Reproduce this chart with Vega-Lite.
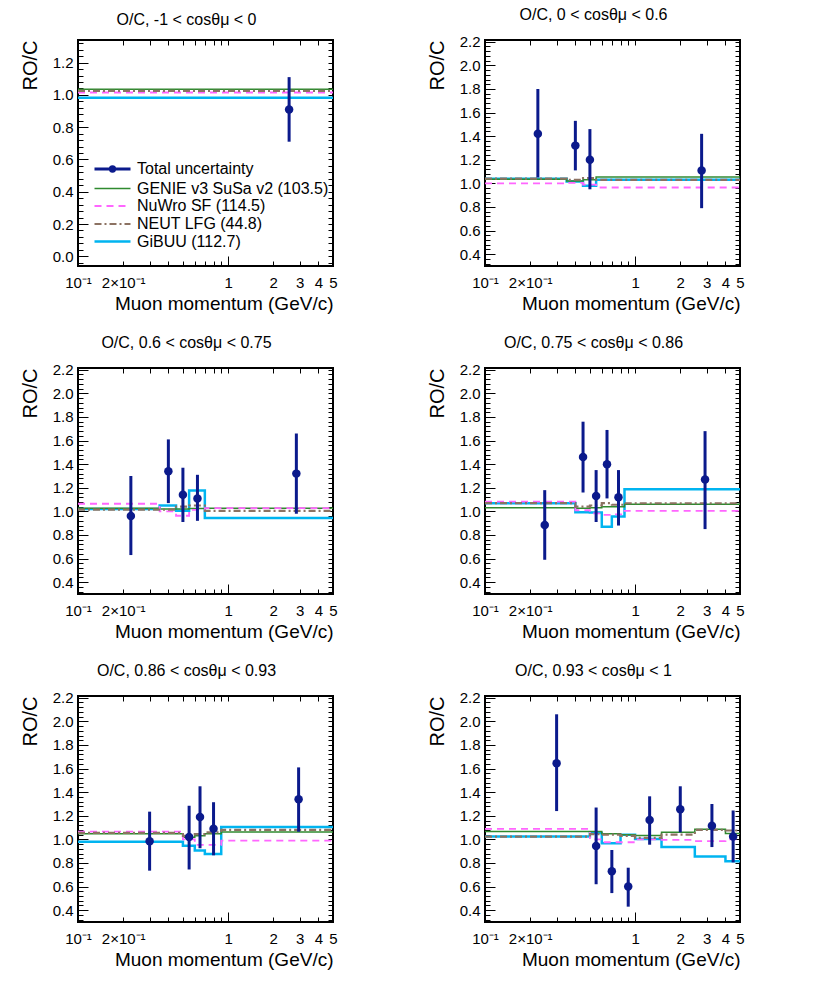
{
  "$schema": "https://vega.github.io/schema/vega-lite/v6.json",
  "background": "white",
  "padding": {"left": 18, "top": 5, "right": 0, "bottom": 0},
  "datasets": {
    "models": [
      {"panel": 1, "model": "GiBUU (112.7)", "p": 0.1, "r": 0.982},
      {"panel": 1, "model": "GiBUU (112.7)", "p": 5, "r": 0.982},
      {"panel": 1, "model": "GENIE v3 SuSa v2 (103.5)", "p": 0.1, "r": 1.035},
      {"panel": 1, "model": "GENIE v3 SuSa v2 (103.5)", "p": 5, "r": 1.035},
      {"panel": 1, "model": "NuWro SF (114.5)", "p": 0.1, "r": 1.015},
      {"panel": 1, "model": "NuWro SF (114.5)", "p": 5, "r": 1.015},
      {"panel": 1, "model": "NEUT LFG (44.8)", "p": 0.1, "r": 1.025},
      {"panel": 1, "model": "NEUT LFG (44.8)", "p": 5, "r": 1.025},

      {"panel": 2, "model": "GiBUU (112.7)", "p": 0.1, "r": 1.04},
      {"panel": 2, "model": "GiBUU (112.7)", "p": 0.35, "r": 1.015},
      {"panel": 2, "model": "GiBUU (112.7)", "p": 0.45, "r": 0.98},
      {"panel": 2, "model": "GiBUU (112.7)", "p": 0.55, "r": 1.03},
      {"panel": 2, "model": "GiBUU (112.7)", "p": 5, "r": 1.03},
      {"panel": 2, "model": "GENIE v3 SuSa v2 (103.5)", "p": 0.1, "r": 1.035},
      {"panel": 2, "model": "GENIE v3 SuSa v2 (103.5)", "p": 0.35, "r": 1.02},
      {"panel": 2, "model": "GENIE v3 SuSa v2 (103.5)", "p": 0.45, "r": 1.03},
      {"panel": 2, "model": "GENIE v3 SuSa v2 (103.5)", "p": 0.55, "r": 1.055},
      {"panel": 2, "model": "GENIE v3 SuSa v2 (103.5)", "p": 5, "r": 1.055},
      {"panel": 2, "model": "NuWro SF (114.5)", "p": 0.1, "r": 1.0},
      {"panel": 2, "model": "NuWro SF (114.5)", "p": 0.35, "r": 1.005},
      {"panel": 2, "model": "NuWro SF (114.5)", "p": 0.45, "r": 0.99},
      {"panel": 2, "model": "NuWro SF (114.5)", "p": 0.55, "r": 0.965},
      {"panel": 2, "model": "NuWro SF (114.5)", "p": 5, "r": 0.965},
      {"panel": 2, "model": "NEUT LFG (44.8)", "p": 0.1, "r": 1.04},
      {"panel": 2, "model": "NEUT LFG (44.8)", "p": 0.35, "r": 1.03},
      {"panel": 2, "model": "NEUT LFG (44.8)", "p": 0.45, "r": 1.045},
      {"panel": 2, "model": "NEUT LFG (44.8)", "p": 0.55, "r": 1.03},
      {"panel": 2, "model": "NEUT LFG (44.8)", "p": 5, "r": 1.03},

      {"panel": 3, "model": "GiBUU (112.7)", "p": 0.1, "r": 1.02},
      {"panel": 3, "model": "GiBUU (112.7)", "p": 0.35, "r": 1.05},
      {"panel": 3, "model": "GiBUU (112.7)", "p": 0.45, "r": 1.005},
      {"panel": 3, "model": "GiBUU (112.7)", "p": 0.55, "r": 1.177},
      {"panel": 3, "model": "GiBUU (112.7)", "p": 0.7, "r": 0.943},
      {"panel": 3, "model": "GiBUU (112.7)", "p": 5, "r": 0.943},
      {"panel": 3, "model": "GENIE v3 SuSa v2 (103.5)", "p": 0.1, "r": 1.027},
      {"panel": 3, "model": "GENIE v3 SuSa v2 (103.5)", "p": 0.35, "r": 1.02},
      {"panel": 3, "model": "GENIE v3 SuSa v2 (103.5)", "p": 0.45, "r": 1.02},
      {"panel": 3, "model": "GENIE v3 SuSa v2 (103.5)", "p": 0.55, "r": 1.025},
      {"panel": 3, "model": "GENIE v3 SuSa v2 (103.5)", "p": 0.7, "r": 1.027},
      {"panel": 3, "model": "GENIE v3 SuSa v2 (103.5)", "p": 5, "r": 1.027},
      {"panel": 3, "model": "NuWro SF (114.5)", "p": 0.1, "r": 1.065},
      {"panel": 3, "model": "NuWro SF (114.5)", "p": 0.35, "r": 1.0},
      {"panel": 3, "model": "NuWro SF (114.5)", "p": 0.45, "r": 0.963},
      {"panel": 3, "model": "NuWro SF (114.5)", "p": 0.55, "r": 1.013},
      {"panel": 3, "model": "NuWro SF (114.5)", "p": 0.7, "r": 1.027},
      {"panel": 3, "model": "NuWro SF (114.5)", "p": 5, "r": 1.027},
      {"panel": 3, "model": "NEUT LFG (44.8)", "p": 0.1, "r": 1.015},
      {"panel": 3, "model": "NEUT LFG (44.8)", "p": 0.35, "r": 1.015},
      {"panel": 3, "model": "NEUT LFG (44.8)", "p": 0.45, "r": 1.04},
      {"panel": 3, "model": "NEUT LFG (44.8)", "p": 0.55, "r": 1.05},
      {"panel": 3, "model": "NEUT LFG (44.8)", "p": 0.7, "r": 1.005},
      {"panel": 3, "model": "NEUT LFG (44.8)", "p": 5, "r": 1.005},

      {"panel": 4, "model": "GiBUU (112.7)", "p": 0.1, "r": 1.07},
      {"panel": 4, "model": "GiBUU (112.7)", "p": 0.4, "r": 0.993},
      {"panel": 4, "model": "GiBUU (112.7)", "p": 0.5, "r": 0.99},
      {"panel": 4, "model": "GiBUU (112.7)", "p": 0.6, "r": 0.87},
      {"panel": 4, "model": "GiBUU (112.7)", "p": 0.7, "r": 0.956},
      {"panel": 4, "model": "GiBUU (112.7)", "p": 0.85, "r": 1.188},
      {"panel": 4, "model": "GiBUU (112.7)", "p": 5, "r": 1.188},
      {"panel": 4, "model": "GENIE v3 SuSa v2 (103.5)", "p": 0.1, "r": 1.03},
      {"panel": 4, "model": "GENIE v3 SuSa v2 (103.5)", "p": 0.4, "r": 1.027},
      {"panel": 4, "model": "GENIE v3 SuSa v2 (103.5)", "p": 0.5, "r": 1.03},
      {"panel": 4, "model": "GENIE v3 SuSa v2 (103.5)", "p": 0.6, "r": 1.04},
      {"panel": 4, "model": "GENIE v3 SuSa v2 (103.5)", "p": 0.7, "r": 1.04},
      {"panel": 4, "model": "GENIE v3 SuSa v2 (103.5)", "p": 0.85, "r": 1.06},
      {"panel": 4, "model": "GENIE v3 SuSa v2 (103.5)", "p": 5, "r": 1.06},
      {"panel": 4, "model": "NuWro SF (114.5)", "p": 0.1, "r": 1.083},
      {"panel": 4, "model": "NuWro SF (114.5)", "p": 0.4, "r": 1.01},
      {"panel": 4, "model": "NuWro SF (114.5)", "p": 0.5, "r": 0.983},
      {"panel": 4, "model": "NuWro SF (114.5)", "p": 0.6, "r": 0.97},
      {"panel": 4, "model": "NuWro SF (114.5)", "p": 0.7, "r": 0.975},
      {"panel": 4, "model": "NuWro SF (114.5)", "p": 0.85, "r": 1.004},
      {"panel": 4, "model": "NuWro SF (114.5)", "p": 5, "r": 1.004},
      {"panel": 4, "model": "NEUT LFG (44.8)", "p": 0.1, "r": 1.07},
      {"panel": 4, "model": "NEUT LFG (44.8)", "p": 0.4, "r": 1.04},
      {"panel": 4, "model": "NEUT LFG (44.8)", "p": 0.5, "r": 1.05},
      {"panel": 4, "model": "NEUT LFG (44.8)", "p": 0.6, "r": 1.07},
      {"panel": 4, "model": "NEUT LFG (44.8)", "p": 0.7, "r": 1.056},
      {"panel": 4, "model": "NEUT LFG (44.8)", "p": 0.85, "r": 1.069},
      {"panel": 4, "model": "NEUT LFG (44.8)", "p": 5, "r": 1.069},

      {"panel": 5, "model": "GiBUU (112.7)", "p": 0.1, "r": 0.98},
      {"panel": 5, "model": "GiBUU (112.7)", "p": 0.5, "r": 0.947},
      {"panel": 5, "model": "GiBUU (112.7)", "p": 0.6, "r": 0.905},
      {"panel": 5, "model": "GiBUU (112.7)", "p": 0.7, "r": 0.877},
      {"panel": 5, "model": "GiBUU (112.7)", "p": 0.9, "r": 1.104},
      {"panel": 5, "model": "GiBUU (112.7)", "p": 5, "r": 1.104},
      {"panel": 5, "model": "GENIE v3 SuSa v2 (103.5)", "p": 0.1, "r": 1.047},
      {"panel": 5, "model": "GENIE v3 SuSa v2 (103.5)", "p": 0.5, "r": 1.018},
      {"panel": 5, "model": "GENIE v3 SuSa v2 (103.5)", "p": 0.6, "r": 1.03},
      {"panel": 5, "model": "GENIE v3 SuSa v2 (103.5)", "p": 0.7, "r": 1.047},
      {"panel": 5, "model": "GENIE v3 SuSa v2 (103.5)", "p": 0.9, "r": 1.062},
      {"panel": 5, "model": "GENIE v3 SuSa v2 (103.5)", "p": 5, "r": 1.062},
      {"panel": 5, "model": "NuWro SF (114.5)", "p": 0.1, "r": 1.066},
      {"panel": 5, "model": "NuWro SF (114.5)", "p": 0.5, "r": 1.0},
      {"panel": 5, "model": "NuWro SF (114.5)", "p": 0.6, "r": 0.953},
      {"panel": 5, "model": "NuWro SF (114.5)", "p": 0.7, "r": 0.953},
      {"panel": 5, "model": "NuWro SF (114.5)", "p": 0.9, "r": 0.99},
      {"panel": 5, "model": "NuWro SF (114.5)", "p": 5, "r": 0.99},
      {"panel": 5, "model": "NEUT LFG (44.8)", "p": 0.1, "r": 1.055},
      {"panel": 5, "model": "NEUT LFG (44.8)", "p": 0.5, "r": 1.03},
      {"panel": 5, "model": "NEUT LFG (44.8)", "p": 0.6, "r": 1.045},
      {"panel": 5, "model": "NEUT LFG (44.8)", "p": 0.7, "r": 1.06},
      {"panel": 5, "model": "NEUT LFG (44.8)", "p": 0.9, "r": 1.08},
      {"panel": 5, "model": "NEUT LFG (44.8)", "p": 5, "r": 1.08},

      {"panel": 6, "model": "GiBUU (112.7)", "p": 0.1, "r": 1.024},
      {"panel": 6, "model": "GiBUU (112.7)", "p": 0.5, "r": 1.055},
      {"panel": 6, "model": "GiBUU (112.7)", "p": 0.6, "r": 0.968},
      {"panel": 6, "model": "GiBUU (112.7)", "p": 0.8, "r": 1.04},
      {"panel": 6, "model": "GiBUU (112.7)", "p": 1.0, "r": 1.004},
      {"panel": 6, "model": "GiBUU (112.7)", "p": 1.5, "r": 0.935},
      {"panel": 6, "model": "GiBUU (112.7)", "p": 2.5, "r": 0.854},
      {"panel": 6, "model": "GiBUU (112.7)", "p": 4, "r": 0.815},
      {"panel": 6, "model": "GiBUU (112.7)", "p": 5, "r": 0.815},
      {"panel": 6, "model": "GENIE v3 SuSa v2 (103.5)", "p": 0.1, "r": 1.066},
      {"panel": 6, "model": "GENIE v3 SuSa v2 (103.5)", "p": 0.5, "r": 1.066},
      {"panel": 6, "model": "GENIE v3 SuSa v2 (103.5)", "p": 0.6, "r": 1.047},
      {"panel": 6, "model": "GENIE v3 SuSa v2 (103.5)", "p": 0.8, "r": 1.04},
      {"panel": 6, "model": "GENIE v3 SuSa v2 (103.5)", "p": 1.0, "r": 1.033},
      {"panel": 6, "model": "GENIE v3 SuSa v2 (103.5)", "p": 1.5, "r": 1.06},
      {"panel": 6, "model": "GENIE v3 SuSa v2 (103.5)", "p": 2.5, "r": 1.085},
      {"panel": 6, "model": "GENIE v3 SuSa v2 (103.5)", "p": 4, "r": 1.05},
      {"panel": 6, "model": "GENIE v3 SuSa v2 (103.5)", "p": 5, "r": 1.05},
      {"panel": 6, "model": "NuWro SF (114.5)", "p": 0.1, "r": 1.089},
      {"panel": 6, "model": "NuWro SF (114.5)", "p": 0.5, "r": 1.0},
      {"panel": 6, "model": "NuWro SF (114.5)", "p": 0.6, "r": 0.976},
      {"panel": 6, "model": "NuWro SF (114.5)", "p": 0.8, "r": 0.976},
      {"panel": 6, "model": "NuWro SF (114.5)", "p": 1.0, "r": 1.0},
      {"panel": 6, "model": "NuWro SF (114.5)", "p": 1.5, "r": 0.996},
      {"panel": 6, "model": "NuWro SF (114.5)", "p": 2.5, "r": 0.985},
      {"panel": 6, "model": "NuWro SF (114.5)", "p": 4, "r": 1.0},
      {"panel": 6, "model": "NuWro SF (114.5)", "p": 5, "r": 1.0},
      {"panel": 6, "model": "NEUT LFG (44.8)", "p": 0.1, "r": 1.024},
      {"panel": 6, "model": "NEUT LFG (44.8)", "p": 0.5, "r": 1.045},
      {"panel": 6, "model": "NEUT LFG (44.8)", "p": 0.6, "r": 1.04},
      {"panel": 6, "model": "NEUT LFG (44.8)", "p": 0.8, "r": 1.03},
      {"panel": 6, "model": "NEUT LFG (44.8)", "p": 1.0, "r": 1.013},
      {"panel": 6, "model": "NEUT LFG (44.8)", "p": 1.5, "r": 1.04},
      {"panel": 6, "model": "NEUT LFG (44.8)", "p": 2.5, "r": 1.08},
      {"panel": 6, "model": "NEUT LFG (44.8)", "p": 4, "r": 1.075},
      {"panel": 6, "model": "NEUT LFG (44.8)", "p": 5, "r": 1.075}
    ],
    "points": [
      {"panel": 1, "p": 2.55, "r": 0.91, "lo": 0.71, "hi": 1.11},
      {"panel": 2, "p": 0.225, "r": 1.42, "lo": 1.05, "hi": 1.8},
      {"panel": 2, "p": 0.4, "r": 1.32, "lo": 1.11, "hi": 1.53},
      {"panel": 2, "p": 0.5, "r": 1.2, "lo": 0.95, "hi": 1.46},
      {"panel": 2, "p": 2.775, "r": 1.11, "lo": 0.79, "hi": 1.42},
      {"panel": 3, "p": 0.225, "r": 0.96, "lo": 0.63, "hi": 1.3},
      {"panel": 3, "p": 0.4, "r": 1.34, "lo": 1.07, "hi": 1.61},
      {"panel": 3, "p": 0.5, "r": 1.14, "lo": 0.91, "hi": 1.37},
      {"panel": 3, "p": 0.625, "r": 1.11, "lo": 0.92, "hi": 1.31},
      {"panel": 3, "p": 2.85, "r": 1.32, "lo": 0.98, "hi": 1.66},
      {"panel": 4, "p": 0.25, "r": 0.885, "lo": 0.59, "hi": 1.18},
      {"panel": 4, "p": 0.45, "r": 1.46, "lo": 1.16, "hi": 1.76},
      {"panel": 4, "p": 0.55, "r": 1.13, "lo": 0.91, "hi": 1.35},
      {"panel": 4, "p": 0.65, "r": 1.4, "lo": 1.11, "hi": 1.69},
      {"panel": 4, "p": 0.775, "r": 1.12, "lo": 0.88, "hi": 1.35},
      {"panel": 4, "p": 2.925, "r": 1.27, "lo": 0.85, "hi": 1.68},
      {"panel": 5, "p": 0.3, "r": 0.985, "lo": 0.735, "hi": 1.235},
      {"panel": 5, "p": 0.55, "r": 1.02, "lo": 0.745, "hi": 1.285},
      {"panel": 5, "p": 0.65, "r": 1.19, "lo": 0.925, "hi": 1.45},
      {"panel": 5, "p": 0.8, "r": 1.09, "lo": 0.865, "hi": 1.315},
      {"panel": 5, "p": 2.95, "r": 1.34, "lo": 1.065, "hi": 1.61},
      {"panel": 6, "p": 0.3, "r": 1.645, "lo": 1.24, "hi": 2.06},
      {"panel": 6, "p": 0.55, "r": 0.945, "lo": 0.62, "hi": 1.27},
      {"panel": 6, "p": 0.7, "r": 0.73, "lo": 0.545, "hi": 0.91},
      {"panel": 6, "p": 0.9, "r": 0.6, "lo": 0.43, "hi": 0.76},
      {"panel": 6, "p": 1.25, "r": 1.165, "lo": 0.955, "hi": 1.365},
      {"panel": 6, "p": 2.0, "r": 1.255, "lo": 1.06, "hi": 1.45},
      {"panel": 6, "p": 3.25, "r": 1.115, "lo": 0.935, "hi": 1.3},
      {"panel": 6, "p": 4.5, "r": 1.025, "lo": 0.805, "hi": 1.245}
    ]
  },
  "columns": 2,
  "spacing": {"row": 102, "column": 152},
  "bounds": "flush",
  "resolve": {"scale": {"color": "independent", "strokeDash": "independent", "strokeWidth": "independent", "stroke": "independent"}},
  "concat": [
    {
      "width": 255, "height": 226,
      "title": "O/C, -1 < cosθμ < 0",
      "layer": [
        {
          "data": {"name": "models"},
          "transform": [{"filter": "datum.panel == 1"}],
          "mark": {"type": "line", "interpolate": "step-after", "clip": true},
          "encoding": {
            "x": {"field": "p", "type": "quantitative", "scale": {"type": "log", "domain": [0.1, 5], "nice": false},
              "axis": {"orient": "bottom", "values": [0.1, 0.2, 0.3, 0.4, 0.5, 0.6, 0.7, 0.8, 0.9, 1, 2, 3, 4, 5], "tickSize": -5, "labelPadding": 14, "labelFlush": false, "labelOverlap": false,
                "labelExpr": "datum.value == 0.1 ? '10⁻¹' : datum.value == 0.2 ? '2×10⁻¹' : datum.value >= 1 ? format(datum.value, 'd') : ''",
                "title": "Muon momentum (GeV/c)", "titleAnchor": "end", "titleFontSize": 19, "titlePadding": 4}},
            "y": {"field": "r", "type": "quantitative", "scale": {"domain": [-0.06, 1.34], "nice": false, "zero": false},
              "axis": {"orient": "left", "values": [-0.04, 0, 0.04, 0.08, 0.12, 0.16, 0.2, 0.24, 0.28, 0.32, 0.36, 0.4, 0.44, 0.48, 0.52, 0.56, 0.6, 0.64, 0.68, 0.72, 0.76, 0.8, 0.84, 0.88, 0.92, 0.96, 1, 1.04, 1.08, 1.12, 1.16, 1.2, 1.24, 1.28, 1.32],
                "tickSize": -5, "labelPadding": 10, "labelExpr": "abs(datum.value * 5 - round(datum.value * 5)) < 0.000001 ? format(datum.value, '.1f') : ''",
                "title": "RO/C", "titleFontSize": 20, "titleAngle": -90, "titleX": -42, "titleY": 0, "titleAlign": "right", "titleBaseline": "alphabetic"}},
            "color": {"field": "model", "type": "nominal",
              "scale": {"domain": ["GENIE v3 SuSa v2 (103.5)", "NuWro SF (114.5)", "NEUT LFG (44.8)", "GiBUU (112.7)"], "range": ["#2f8a2f", "#ff66ff", "#8c7262", "#00b4f0"]},
              "legend": {"orient": "none", "legendX": 25.5, "legendY": 140, "title": null, "symbolType": "M-2.4,0L2.4,0", "symbolSize": 225, "labelFontSize": 16, "labelOffset": 15.5, "labelLimit": 400, "rowPadding": 0.5, "padding": 0}},
            "strokeDash": {"field": "model", "type": "nominal",
              "scale": {"domain": ["GENIE v3 SuSa v2 (103.5)", "NuWro SF (114.5)", "NEUT LFG (44.8)", "GiBUU (112.7)"], "range": [[1, 0], [7, 5], [7, 3, 2, 3], [1, 0]]},
              "legend": {"orient": "none", "legendX": 25.5, "legendY": 140, "title": null, "symbolType": "M-2.4,0L2.4,0", "symbolSize": 225, "labelFontSize": 16, "labelOffset": 15.5, "labelLimit": 400, "rowPadding": 0.5, "padding": 0}},
            "strokeWidth": {"field": "model", "type": "nominal",
              "scale": {"domain": ["GENIE v3 SuSa v2 (103.5)", "NuWro SF (114.5)", "NEUT LFG (44.8)", "GiBUU (112.7)"], "range": [1.5, 2.5, 3.5, 4.5]},
              "legend": {"orient": "none", "legendX": 25.5, "legendY": 140, "title": null, "symbolType": "M-2.4,0L2.4,0", "symbolSize": 225, "labelFontSize": 16, "labelOffset": 15.5, "labelLimit": 400, "rowPadding": 0.5, "padding": 0}}
          }
        },
        {
          "data": {"name": "points"},
          "transform": [{"filter": "datum.panel == 1"}],
          "mark": {"type": "rule", "strokeWidth": 3},
          "encoding": {
            "x": {"field": "p", "type": "quantitative", "scale": {"type": "log", "domain": [0.1, 5], "nice": false},
              "axis": {"orient": "bottom", "values": [1], "tickSize": -10, "labels": false, "title": null}},
            "y": {"field": "lo", "type": "quantitative", "scale": {"domain": [-0.06, 1.34], "nice": false, "zero": false},
              "axis": {"orient": "left", "values": [0, 0.2, 0.4, 0.6, 0.8, 1, 1.2], "tickSize": -10, "labels": false, "title": null}},
            "y2": {"field": "hi"},
            "stroke": {"datum": "Total uncertainty",
              "scale": {"domain": ["Total uncertainty"], "range": ["#0b1a8c"]},
              "legend": {"orient": "none", "legendX": 25.5, "legendY": 120, "title": null, "symbolType": "M-2.4,0L2.4,0M0.3,0A0.3,0.3 0 1,1 -0.3,0A0.3,0.3 0 1,1 0.3,0", "symbolSize": 225, "symbolStrokeWidth": 2.8, "labelFontSize": 16, "labelOffset": 15.5, "labelLimit": 400, "padding": 0}}
          }
        },
        {
          "data": {"name": "points"},
          "transform": [{"filter": "datum.panel == 1"}],
          "mark": {"type": "point", "filled": true, "opacity": 1, "size": 72, "color": "#0b1a8c", "shape": "circle"},
          "encoding": {
            "x": {"field": "p", "type": "quantitative", "scale": {"type": "log", "domain": [0.1, 5], "nice": false},
              "axis": {"orient": "top", "values": [0.2, 0.3, 0.4, 0.5, 0.6, 0.7, 0.8, 0.9, 1, 2, 3, 4], "tickSize": -5, "labels": false, "title": null}},
            "y": {"field": "r", "type": "quantitative", "scale": {"domain": [-0.06, 1.34], "nice": false, "zero": false},
              "axis": {"orient": "right", "values": [-0.04, 0, 0.04, 0.08, 0.12, 0.16, 0.2, 0.24, 0.28, 0.32, 0.36, 0.4, 0.44, 0.48, 0.52, 0.56, 0.6, 0.64, 0.68, 0.72, 0.76, 0.8, 0.84, 0.88, 0.92, 0.96, 1, 1.04, 1.08, 1.12, 1.16, 1.2, 1.24, 1.28, 1.32], "tickSize": -5, "labels": false, "title": null}}
          }
        }
      ],
      "resolve": {"axis": {"x": "independent", "y": "independent"}}
    },
    {
      "width": 255, "height": 226,
      "title": "O/C, 0 < cosθμ < 0.6",
      "layer": [
        {
          "data": {"name": "models"},
          "transform": [{"filter": "datum.panel == 2"}],
          "mark": {"type": "line", "interpolate": "step-after", "clip": true},
          "encoding": {
            "x": {"field": "p", "type": "quantitative", "scale": {"type": "log", "domain": [0.1, 5], "nice": false},
              "axis": {"orient": "bottom", "values": [0.1, 0.2, 0.3, 0.4, 0.5, 0.6, 0.7, 0.8, 0.9, 1, 2, 3, 4, 5], "tickSize": -5, "labelPadding": 14, "labelFlush": false, "labelOverlap": false,
                "labelExpr": "datum.value == 0.1 ? '10⁻¹' : datum.value == 0.2 ? '2×10⁻¹' : datum.value >= 1 ? format(datum.value, 'd') : ''",
                "title": "Muon momentum (GeV/c)", "titleAnchor": "end", "titleFontSize": 19, "titlePadding": 4}},
            "y": {"field": "r", "type": "quantitative", "scale": {"domain": [0.3, 2.215], "nice": false, "zero": false},
              "axis": {"orient": "left", "values": [0.32, 0.36, 0.4, 0.44, 0.48, 0.52, 0.56, 0.6, 0.64, 0.68, 0.72, 0.76, 0.8, 0.84, 0.88, 0.92, 0.96, 1, 1.04, 1.08, 1.12, 1.16, 1.2, 1.24, 1.28, 1.32, 1.36, 1.4, 1.44, 1.48, 1.52, 1.56, 1.6, 1.64, 1.68, 1.72, 1.76, 1.8, 1.84, 1.88, 1.92, 1.96, 2, 2.04, 2.08, 2.12, 2.16, 2.2],
                "tickSize": -5, "labelPadding": 10, "labelExpr": "abs(datum.value * 5 - round(datum.value * 5)) < 0.000001 ? format(datum.value, '.1f') : ''",
                "title": "RO/C", "titleFontSize": 20, "titleAngle": -90, "titleX": -42, "titleY": 0, "titleAlign": "right", "titleBaseline": "alphabetic"}},
            "color": {"field": "model", "type": "nominal",
              "scale": {"domain": ["GENIE v3 SuSa v2 (103.5)", "NuWro SF (114.5)", "NEUT LFG (44.8)", "GiBUU (112.7)"], "range": ["#2f8a2f", "#ff66ff", "#8c7262", "#00b4f0"]}, "legend": null},
            "strokeDash": {"field": "model", "type": "nominal",
              "scale": {"domain": ["GENIE v3 SuSa v2 (103.5)", "NuWro SF (114.5)", "NEUT LFG (44.8)", "GiBUU (112.7)"], "range": [[1, 0], [7, 5], [7, 3, 2, 3], [1, 0]]}, "legend": null},
            "strokeWidth": {"field": "model", "type": "nominal",
              "scale": {"domain": ["GENIE v3 SuSa v2 (103.5)", "NuWro SF (114.5)", "NEUT LFG (44.8)", "GiBUU (112.7)"], "range": [1.5, 2.5, 3.5, 4.5]}, "legend": null}
          }
        },
        {
          "data": {"name": "points"},
          "transform": [{"filter": "datum.panel == 2"}],
          "mark": {"type": "rule", "color": "#0b1a8c", "strokeWidth": 3},
          "encoding": {
            "x": {"field": "p", "type": "quantitative", "scale": {"type": "log", "domain": [0.1, 5], "nice": false},
              "axis": {"orient": "bottom", "values": [1], "tickSize": -10, "labels": false, "title": null}},
            "y": {"field": "lo", "type": "quantitative", "scale": {"domain": [0.3, 2.215], "nice": false, "zero": false},
              "axis": {"orient": "left", "values": [0.4, 0.6, 0.8, 1, 1.2, 1.4, 1.6, 1.8, 2, 2.2], "tickSize": -10, "labels": false, "title": null}},
            "y2": {"field": "hi"}
          }
        },
        {
          "data": {"name": "points"},
          "transform": [{"filter": "datum.panel == 2"}],
          "mark": {"type": "point", "filled": true, "opacity": 1, "size": 72, "color": "#0b1a8c", "shape": "circle"},
          "encoding": {
            "x": {"field": "p", "type": "quantitative", "scale": {"type": "log", "domain": [0.1, 5], "nice": false},
              "axis": {"orient": "top", "values": [0.2, 0.3, 0.4, 0.5, 0.6, 0.7, 0.8, 0.9, 1, 2, 3, 4], "tickSize": -5, "labels": false, "title": null}},
            "y": {"field": "r", "type": "quantitative", "scale": {"domain": [0.3, 2.215], "nice": false, "zero": false},
              "axis": {"orient": "right", "values": [0.32, 0.36, 0.4, 0.44, 0.48, 0.52, 0.56, 0.6, 0.64, 0.68, 0.72, 0.76, 0.8, 0.84, 0.88, 0.92, 0.96, 1, 1.04, 1.08, 1.12, 1.16, 1.2, 1.24, 1.28, 1.32, 1.36, 1.4, 1.44, 1.48, 1.52, 1.56, 1.6, 1.64, 1.68, 1.72, 1.76, 1.8, 1.84, 1.88, 1.92, 1.96, 2, 2.04, 2.08, 2.12, 2.16, 2.2], "tickSize": -5, "labels": false, "title": null}}
          }
        }
      ],
      "resolve": {"axis": {"x": "independent", "y": "independent"}}
    },
    {
      "width": 255, "height": 226,
      "title": "O/C, 0.6 < cosθμ < 0.75",
      "layer": [
        {
          "data": {"name": "models"},
          "transform": [{"filter": "datum.panel == 3"}],
          "mark": {"type": "line", "interpolate": "step-after", "clip": true},
          "encoding": {
            "x": {"field": "p", "type": "quantitative", "scale": {"type": "log", "domain": [0.1, 5], "nice": false},
              "axis": {"orient": "bottom", "values": [0.1, 0.2, 0.3, 0.4, 0.5, 0.6, 0.7, 0.8, 0.9, 1, 2, 3, 4, 5], "tickSize": -5, "labelPadding": 14, "labelFlush": false, "labelOverlap": false,
                "labelExpr": "datum.value == 0.1 ? '10⁻¹' : datum.value == 0.2 ? '2×10⁻¹' : datum.value >= 1 ? format(datum.value, 'd') : ''",
                "title": "Muon momentum (GeV/c)", "titleAnchor": "end", "titleFontSize": 19, "titlePadding": 4}},
            "y": {"field": "r", "type": "quantitative", "scale": {"domain": [0.3, 2.215], "nice": false, "zero": false},
              "axis": {"orient": "left", "values": [0.32, 0.36, 0.4, 0.44, 0.48, 0.52, 0.56, 0.6, 0.64, 0.68, 0.72, 0.76, 0.8, 0.84, 0.88, 0.92, 0.96, 1, 1.04, 1.08, 1.12, 1.16, 1.2, 1.24, 1.28, 1.32, 1.36, 1.4, 1.44, 1.48, 1.52, 1.56, 1.6, 1.64, 1.68, 1.72, 1.76, 1.8, 1.84, 1.88, 1.92, 1.96, 2, 2.04, 2.08, 2.12, 2.16, 2.2],
                "tickSize": -5, "labelPadding": 10, "labelExpr": "abs(datum.value * 5 - round(datum.value * 5)) < 0.000001 ? format(datum.value, '.1f') : ''",
                "title": "RO/C", "titleFontSize": 20, "titleAngle": -90, "titleX": -42, "titleY": 0, "titleAlign": "right", "titleBaseline": "alphabetic"}},
            "color": {"field": "model", "type": "nominal",
              "scale": {"domain": ["GENIE v3 SuSa v2 (103.5)", "NuWro SF (114.5)", "NEUT LFG (44.8)", "GiBUU (112.7)"], "range": ["#2f8a2f", "#ff66ff", "#8c7262", "#00b4f0"]}, "legend": null},
            "strokeDash": {"field": "model", "type": "nominal",
              "scale": {"domain": ["GENIE v3 SuSa v2 (103.5)", "NuWro SF (114.5)", "NEUT LFG (44.8)", "GiBUU (112.7)"], "range": [[1, 0], [7, 5], [7, 3, 2, 3], [1, 0]]}, "legend": null},
            "strokeWidth": {"field": "model", "type": "nominal",
              "scale": {"domain": ["GENIE v3 SuSa v2 (103.5)", "NuWro SF (114.5)", "NEUT LFG (44.8)", "GiBUU (112.7)"], "range": [1.5, 2.5, 3.5, 4.5]}, "legend": null}
          }
        },
        {
          "data": {"name": "points"},
          "transform": [{"filter": "datum.panel == 3"}],
          "mark": {"type": "rule", "color": "#0b1a8c", "strokeWidth": 3},
          "encoding": {
            "x": {"field": "p", "type": "quantitative", "scale": {"type": "log", "domain": [0.1, 5], "nice": false},
              "axis": {"orient": "bottom", "values": [1], "tickSize": -10, "labels": false, "title": null}},
            "y": {"field": "lo", "type": "quantitative", "scale": {"domain": [0.3, 2.215], "nice": false, "zero": false},
              "axis": {"orient": "left", "values": [0.4, 0.6, 0.8, 1, 1.2, 1.4, 1.6, 1.8, 2, 2.2], "tickSize": -10, "labels": false, "title": null}},
            "y2": {"field": "hi"}
          }
        },
        {
          "data": {"name": "points"},
          "transform": [{"filter": "datum.panel == 3"}],
          "mark": {"type": "point", "filled": true, "opacity": 1, "size": 72, "color": "#0b1a8c", "shape": "circle"},
          "encoding": {
            "x": {"field": "p", "type": "quantitative", "scale": {"type": "log", "domain": [0.1, 5], "nice": false},
              "axis": {"orient": "top", "values": [0.2, 0.3, 0.4, 0.5, 0.6, 0.7, 0.8, 0.9, 1, 2, 3, 4], "tickSize": -5, "labels": false, "title": null}},
            "y": {"field": "r", "type": "quantitative", "scale": {"domain": [0.3, 2.215], "nice": false, "zero": false},
              "axis": {"orient": "right", "values": [0.32, 0.36, 0.4, 0.44, 0.48, 0.52, 0.56, 0.6, 0.64, 0.68, 0.72, 0.76, 0.8, 0.84, 0.88, 0.92, 0.96, 1, 1.04, 1.08, 1.12, 1.16, 1.2, 1.24, 1.28, 1.32, 1.36, 1.4, 1.44, 1.48, 1.52, 1.56, 1.6, 1.64, 1.68, 1.72, 1.76, 1.8, 1.84, 1.88, 1.92, 1.96, 2, 2.04, 2.08, 2.12, 2.16, 2.2], "tickSize": -5, "labels": false, "title": null}}
          }
        }
      ],
      "resolve": {"axis": {"x": "independent", "y": "independent"}}
    },
    {
      "width": 255, "height": 226,
      "title": "O/C, 0.75 < cosθμ < 0.86",
      "layer": [
        {
          "data": {"name": "models"},
          "transform": [{"filter": "datum.panel == 4"}],
          "mark": {"type": "line", "interpolate": "step-after", "clip": true},
          "encoding": {
            "x": {"field": "p", "type": "quantitative", "scale": {"type": "log", "domain": [0.1, 5], "nice": false},
              "axis": {"orient": "bottom", "values": [0.1, 0.2, 0.3, 0.4, 0.5, 0.6, 0.7, 0.8, 0.9, 1, 2, 3, 4, 5], "tickSize": -5, "labelPadding": 14, "labelFlush": false, "labelOverlap": false,
                "labelExpr": "datum.value == 0.1 ? '10⁻¹' : datum.value == 0.2 ? '2×10⁻¹' : datum.value >= 1 ? format(datum.value, 'd') : ''",
                "title": "Muon momentum (GeV/c)", "titleAnchor": "end", "titleFontSize": 19, "titlePadding": 4}},
            "y": {"field": "r", "type": "quantitative", "scale": {"domain": [0.3, 2.215], "nice": false, "zero": false},
              "axis": {"orient": "left", "values": [0.32, 0.36, 0.4, 0.44, 0.48, 0.52, 0.56, 0.6, 0.64, 0.68, 0.72, 0.76, 0.8, 0.84, 0.88, 0.92, 0.96, 1, 1.04, 1.08, 1.12, 1.16, 1.2, 1.24, 1.28, 1.32, 1.36, 1.4, 1.44, 1.48, 1.52, 1.56, 1.6, 1.64, 1.68, 1.72, 1.76, 1.8, 1.84, 1.88, 1.92, 1.96, 2, 2.04, 2.08, 2.12, 2.16, 2.2],
                "tickSize": -5, "labelPadding": 10, "labelExpr": "abs(datum.value * 5 - round(datum.value * 5)) < 0.000001 ? format(datum.value, '.1f') : ''",
                "title": "RO/C", "titleFontSize": 20, "titleAngle": -90, "titleX": -42, "titleY": 0, "titleAlign": "right", "titleBaseline": "alphabetic"}},
            "color": {"field": "model", "type": "nominal",
              "scale": {"domain": ["GENIE v3 SuSa v2 (103.5)", "NuWro SF (114.5)", "NEUT LFG (44.8)", "GiBUU (112.7)"], "range": ["#2f8a2f", "#ff66ff", "#8c7262", "#00b4f0"]}, "legend": null},
            "strokeDash": {"field": "model", "type": "nominal",
              "scale": {"domain": ["GENIE v3 SuSa v2 (103.5)", "NuWro SF (114.5)", "NEUT LFG (44.8)", "GiBUU (112.7)"], "range": [[1, 0], [7, 5], [7, 3, 2, 3], [1, 0]]}, "legend": null},
            "strokeWidth": {"field": "model", "type": "nominal",
              "scale": {"domain": ["GENIE v3 SuSa v2 (103.5)", "NuWro SF (114.5)", "NEUT LFG (44.8)", "GiBUU (112.7)"], "range": [1.5, 2.5, 3.5, 4.5]}, "legend": null}
          }
        },
        {
          "data": {"name": "points"},
          "transform": [{"filter": "datum.panel == 4"}],
          "mark": {"type": "rule", "color": "#0b1a8c", "strokeWidth": 3},
          "encoding": {
            "x": {"field": "p", "type": "quantitative", "scale": {"type": "log", "domain": [0.1, 5], "nice": false},
              "axis": {"orient": "bottom", "values": [1], "tickSize": -10, "labels": false, "title": null}},
            "y": {"field": "lo", "type": "quantitative", "scale": {"domain": [0.3, 2.215], "nice": false, "zero": false},
              "axis": {"orient": "left", "values": [0.4, 0.6, 0.8, 1, 1.2, 1.4, 1.6, 1.8, 2, 2.2], "tickSize": -10, "labels": false, "title": null}},
            "y2": {"field": "hi"}
          }
        },
        {
          "data": {"name": "points"},
          "transform": [{"filter": "datum.panel == 4"}],
          "mark": {"type": "point", "filled": true, "opacity": 1, "size": 72, "color": "#0b1a8c", "shape": "circle"},
          "encoding": {
            "x": {"field": "p", "type": "quantitative", "scale": {"type": "log", "domain": [0.1, 5], "nice": false},
              "axis": {"orient": "top", "values": [0.2, 0.3, 0.4, 0.5, 0.6, 0.7, 0.8, 0.9, 1, 2, 3, 4], "tickSize": -5, "labels": false, "title": null}},
            "y": {"field": "r", "type": "quantitative", "scale": {"domain": [0.3, 2.215], "nice": false, "zero": false},
              "axis": {"orient": "right", "values": [0.32, 0.36, 0.4, 0.44, 0.48, 0.52, 0.56, 0.6, 0.64, 0.68, 0.72, 0.76, 0.8, 0.84, 0.88, 0.92, 0.96, 1, 1.04, 1.08, 1.12, 1.16, 1.2, 1.24, 1.28, 1.32, 1.36, 1.4, 1.44, 1.48, 1.52, 1.56, 1.6, 1.64, 1.68, 1.72, 1.76, 1.8, 1.84, 1.88, 1.92, 1.96, 2, 2.04, 2.08, 2.12, 2.16, 2.2], "tickSize": -5, "labels": false, "title": null}}
          }
        }
      ],
      "resolve": {"axis": {"x": "independent", "y": "independent"}}
    },
    {
      "width": 255, "height": 226,
      "title": "O/C, 0.86 < cosθμ < 0.93",
      "layer": [
        {
          "data": {"name": "models"},
          "transform": [{"filter": "datum.panel == 5"}],
          "mark": {"type": "line", "interpolate": "step-after", "clip": true},
          "encoding": {
            "x": {"field": "p", "type": "quantitative", "scale": {"type": "log", "domain": [0.1, 5], "nice": false},
              "axis": {"orient": "bottom", "values": [0.1, 0.2, 0.3, 0.4, 0.5, 0.6, 0.7, 0.8, 0.9, 1, 2, 3, 4, 5], "tickSize": -5, "labelPadding": 14, "labelFlush": false, "labelOverlap": false,
                "labelExpr": "datum.value == 0.1 ? '10⁻¹' : datum.value == 0.2 ? '2×10⁻¹' : datum.value >= 1 ? format(datum.value, 'd') : ''",
                "title": "Muon momentum (GeV/c)", "titleAnchor": "end", "titleFontSize": 19, "titlePadding": 4}},
            "y": {"field": "r", "type": "quantitative", "scale": {"domain": [0.3, 2.215], "nice": false, "zero": false},
              "axis": {"orient": "left", "values": [0.32, 0.36, 0.4, 0.44, 0.48, 0.52, 0.56, 0.6, 0.64, 0.68, 0.72, 0.76, 0.8, 0.84, 0.88, 0.92, 0.96, 1, 1.04, 1.08, 1.12, 1.16, 1.2, 1.24, 1.28, 1.32, 1.36, 1.4, 1.44, 1.48, 1.52, 1.56, 1.6, 1.64, 1.68, 1.72, 1.76, 1.8, 1.84, 1.88, 1.92, 1.96, 2, 2.04, 2.08, 2.12, 2.16, 2.2],
                "tickSize": -5, "labelPadding": 10, "labelExpr": "abs(datum.value * 5 - round(datum.value * 5)) < 0.000001 ? format(datum.value, '.1f') : ''",
                "title": "RO/C", "titleFontSize": 20, "titleAngle": -90, "titleX": -42, "titleY": 0, "titleAlign": "right", "titleBaseline": "alphabetic"}},
            "color": {"field": "model", "type": "nominal",
              "scale": {"domain": ["GENIE v3 SuSa v2 (103.5)", "NuWro SF (114.5)", "NEUT LFG (44.8)", "GiBUU (112.7)"], "range": ["#2f8a2f", "#ff66ff", "#8c7262", "#00b4f0"]}, "legend": null},
            "strokeDash": {"field": "model", "type": "nominal",
              "scale": {"domain": ["GENIE v3 SuSa v2 (103.5)", "NuWro SF (114.5)", "NEUT LFG (44.8)", "GiBUU (112.7)"], "range": [[1, 0], [7, 5], [7, 3, 2, 3], [1, 0]]}, "legend": null},
            "strokeWidth": {"field": "model", "type": "nominal",
              "scale": {"domain": ["GENIE v3 SuSa v2 (103.5)", "NuWro SF (114.5)", "NEUT LFG (44.8)", "GiBUU (112.7)"], "range": [1.5, 2.5, 3.5, 4.5]}, "legend": null}
          }
        },
        {
          "data": {"name": "points"},
          "transform": [{"filter": "datum.panel == 5"}],
          "mark": {"type": "rule", "color": "#0b1a8c", "strokeWidth": 3},
          "encoding": {
            "x": {"field": "p", "type": "quantitative", "scale": {"type": "log", "domain": [0.1, 5], "nice": false},
              "axis": {"orient": "bottom", "values": [1], "tickSize": -10, "labels": false, "title": null}},
            "y": {"field": "lo", "type": "quantitative", "scale": {"domain": [0.3, 2.215], "nice": false, "zero": false},
              "axis": {"orient": "left", "values": [0.4, 0.6, 0.8, 1, 1.2, 1.4, 1.6, 1.8, 2, 2.2], "tickSize": -10, "labels": false, "title": null}},
            "y2": {"field": "hi"}
          }
        },
        {
          "data": {"name": "points"},
          "transform": [{"filter": "datum.panel == 5"}],
          "mark": {"type": "point", "filled": true, "opacity": 1, "size": 72, "color": "#0b1a8c", "shape": "circle"},
          "encoding": {
            "x": {"field": "p", "type": "quantitative", "scale": {"type": "log", "domain": [0.1, 5], "nice": false},
              "axis": {"orient": "top", "values": [0.2, 0.3, 0.4, 0.5, 0.6, 0.7, 0.8, 0.9, 1, 2, 3, 4], "tickSize": -5, "labels": false, "title": null}},
            "y": {"field": "r", "type": "quantitative", "scale": {"domain": [0.3, 2.215], "nice": false, "zero": false},
              "axis": {"orient": "right", "values": [0.32, 0.36, 0.4, 0.44, 0.48, 0.52, 0.56, 0.6, 0.64, 0.68, 0.72, 0.76, 0.8, 0.84, 0.88, 0.92, 0.96, 1, 1.04, 1.08, 1.12, 1.16, 1.2, 1.24, 1.28, 1.32, 1.36, 1.4, 1.44, 1.48, 1.52, 1.56, 1.6, 1.64, 1.68, 1.72, 1.76, 1.8, 1.84, 1.88, 1.92, 1.96, 2, 2.04, 2.08, 2.12, 2.16, 2.2], "tickSize": -5, "labels": false, "title": null}}
          }
        }
      ],
      "resolve": {"axis": {"x": "independent", "y": "independent"}}
    },
    {
      "width": 255, "height": 226,
      "title": "O/C, 0.93 < cosθμ < 1",
      "layer": [
        {
          "data": {"name": "models"},
          "transform": [{"filter": "datum.panel == 6"}],
          "mark": {"type": "line", "interpolate": "step-after", "clip": true},
          "encoding": {
            "x": {"field": "p", "type": "quantitative", "scale": {"type": "log", "domain": [0.1, 5], "nice": false},
              "axis": {"orient": "bottom", "values": [0.1, 0.2, 0.3, 0.4, 0.5, 0.6, 0.7, 0.8, 0.9, 1, 2, 3, 4, 5], "tickSize": -5, "labelPadding": 14, "labelFlush": false, "labelOverlap": false,
                "labelExpr": "datum.value == 0.1 ? '10⁻¹' : datum.value == 0.2 ? '2×10⁻¹' : datum.value >= 1 ? format(datum.value, 'd') : ''",
                "title": "Muon momentum (GeV/c)", "titleAnchor": "end", "titleFontSize": 19, "titlePadding": 4}},
            "y": {"field": "r", "type": "quantitative", "scale": {"domain": [0.3, 2.215], "nice": false, "zero": false},
              "axis": {"orient": "left", "values": [0.32, 0.36, 0.4, 0.44, 0.48, 0.52, 0.56, 0.6, 0.64, 0.68, 0.72, 0.76, 0.8, 0.84, 0.88, 0.92, 0.96, 1, 1.04, 1.08, 1.12, 1.16, 1.2, 1.24, 1.28, 1.32, 1.36, 1.4, 1.44, 1.48, 1.52, 1.56, 1.6, 1.64, 1.68, 1.72, 1.76, 1.8, 1.84, 1.88, 1.92, 1.96, 2, 2.04, 2.08, 2.12, 2.16, 2.2],
                "tickSize": -5, "labelPadding": 10, "labelExpr": "abs(datum.value * 5 - round(datum.value * 5)) < 0.000001 ? format(datum.value, '.1f') : ''",
                "title": "RO/C", "titleFontSize": 20, "titleAngle": -90, "titleX": -42, "titleY": 0, "titleAlign": "right", "titleBaseline": "alphabetic"}},
            "color": {"field": "model", "type": "nominal",
              "scale": {"domain": ["GENIE v3 SuSa v2 (103.5)", "NuWro SF (114.5)", "NEUT LFG (44.8)", "GiBUU (112.7)"], "range": ["#2f8a2f", "#ff66ff", "#8c7262", "#00b4f0"]}, "legend": null},
            "strokeDash": {"field": "model", "type": "nominal",
              "scale": {"domain": ["GENIE v3 SuSa v2 (103.5)", "NuWro SF (114.5)", "NEUT LFG (44.8)", "GiBUU (112.7)"], "range": [[1, 0], [7, 5], [7, 3, 2, 3], [1, 0]]}, "legend": null},
            "strokeWidth": {"field": "model", "type": "nominal",
              "scale": {"domain": ["GENIE v3 SuSa v2 (103.5)", "NuWro SF (114.5)", "NEUT LFG (44.8)", "GiBUU (112.7)"], "range": [1.5, 2.5, 3.5, 4.5]}, "legend": null}
          }
        },
        {
          "data": {"name": "points"},
          "transform": [{"filter": "datum.panel == 6"}],
          "mark": {"type": "rule", "color": "#0b1a8c", "strokeWidth": 3},
          "encoding": {
            "x": {"field": "p", "type": "quantitative", "scale": {"type": "log", "domain": [0.1, 5], "nice": false},
              "axis": {"orient": "bottom", "values": [1], "tickSize": -10, "labels": false, "title": null}},
            "y": {"field": "lo", "type": "quantitative", "scale": {"domain": [0.3, 2.215], "nice": false, "zero": false},
              "axis": {"orient": "left", "values": [0.4, 0.6, 0.8, 1, 1.2, 1.4, 1.6, 1.8, 2, 2.2], "tickSize": -10, "labels": false, "title": null}},
            "y2": {"field": "hi"}
          }
        },
        {
          "data": {"name": "points"},
          "transform": [{"filter": "datum.panel == 6"}],
          "mark": {"type": "point", "filled": true, "opacity": 1, "size": 72, "color": "#0b1a8c", "shape": "circle"},
          "encoding": {
            "x": {"field": "p", "type": "quantitative", "scale": {"type": "log", "domain": [0.1, 5], "nice": false},
              "axis": {"orient": "top", "values": [0.2, 0.3, 0.4, 0.5, 0.6, 0.7, 0.8, 0.9, 1, 2, 3, 4], "tickSize": -5, "labels": false, "title": null}},
            "y": {"field": "r", "type": "quantitative", "scale": {"domain": [0.3, 2.215], "nice": false, "zero": false},
              "axis": {"orient": "right", "values": [0.32, 0.36, 0.4, 0.44, 0.48, 0.52, 0.56, 0.6, 0.64, 0.68, 0.72, 0.76, 0.8, 0.84, 0.88, 0.92, 0.96, 1, 1.04, 1.08, 1.12, 1.16, 1.2, 1.24, 1.28, 1.32, 1.36, 1.4, 1.44, 1.48, 1.52, 1.56, 1.6, 1.64, 1.68, 1.72, 1.76, 1.8, 1.84, 1.88, 1.92, 1.96, 2, 2.04, 2.08, 2.12, 2.16, 2.2], "tickSize": -5, "labels": false, "title": null}}
          }
        }
      ],
      "resolve": {"axis": {"x": "independent", "y": "independent"}}
    }
  ],
  "config": {
    "font": "Liberation Sans",
    "view": {"stroke": "black", "strokeWidth": 2},
    "axis": {"grid": false, "domain": false, "tickColor": "black", "tickWidth": 1, "labelFont": "Liberation Sans", "labelFontSize": 15, "labelColor": "black", "titleFont": "Liberation Sans", "titleColor": "black", "titleFontWeight": "normal"},
    "title": {"font": "Liberation Sans", "fontSize": 16, "fontWeight": "normal", "color": "black", "offset": 12, "dx": -19, "anchor": "middle"},
    "legend": {"labelFont": "Liberation Sans", "labelColor": "black"}
  }
}
